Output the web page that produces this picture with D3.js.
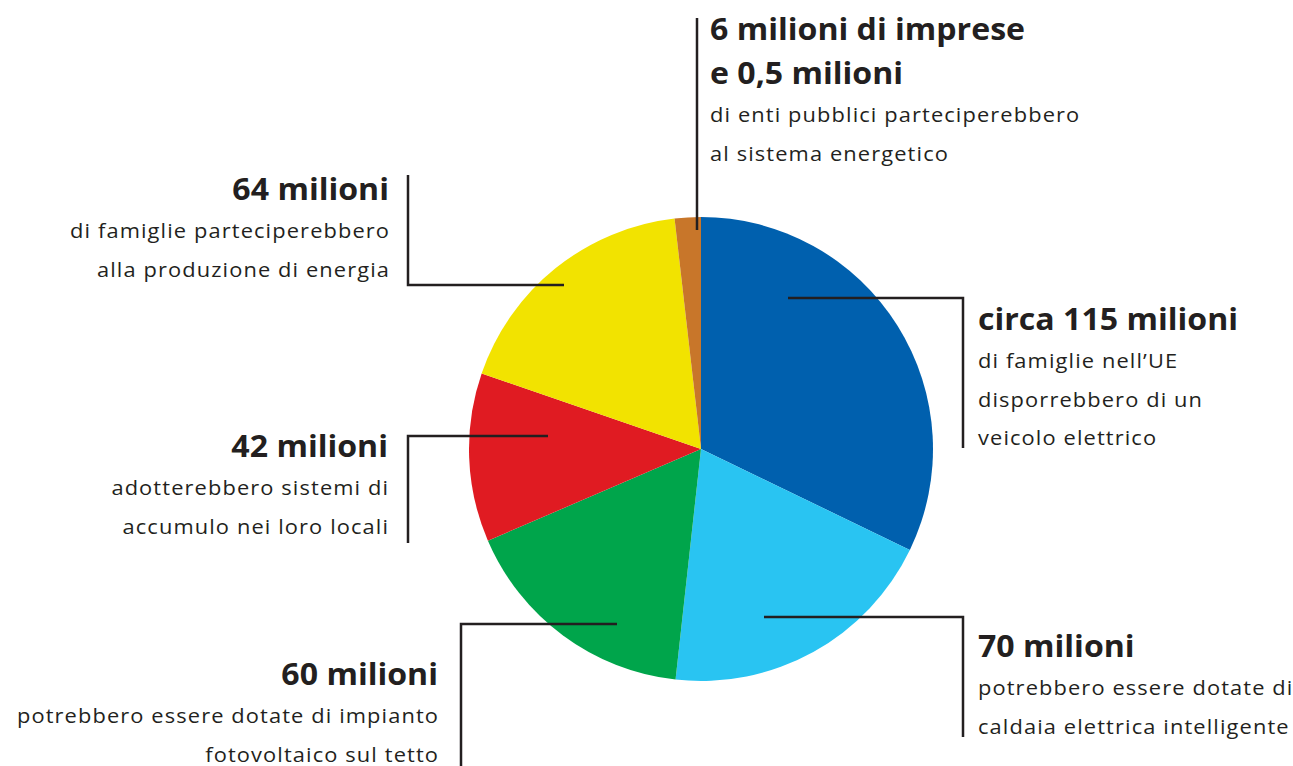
<!DOCTYPE html>
<html>
<head>
<meta charset="utf-8">
<script src="https://cdn.jsdelivr.net/npm/d3@7"></script>
<style>
  html, body { margin: 0; padding: 0; background: #fff; }
  svg { display: block; }
  .title { font-family: "Open Sans", Lato, sans-serif; font-weight: 700; fill: #231f20; }
  .body { font-family: "Open Sans", Lato, sans-serif; font-weight: 400; fill: #231f20; }
</style>
</head>
<body>
<svg id="chart" width="1293" height="766"></svg>
<script>
// Slices, clockwise from 12 o'clock (millions)
const categories = ["veicolo elettrico", "caldaia elettrica", "fotovoltaico", "accumulo", "produzione di energia", "imprese ed enti pubblici"];
const values = [115, 70, 60, 42, 64, 6.5];
const colors = ["#0060ae", "#29c4f2", "#00a54b", "#e01b22", "#f2e300", "#c8762a"];
const titles = [
  ["circa 115 milioni"],
  ["70 milioni"],
  ["60 milioni"],
  ["42 milioni"],
  ["64 milioni"],
  ["6 milioni di imprese", "e 0,5 milioni"]
];
const bodies = [
  ["di famiglie nell\u2019UE", "disporrebbero di un", "veicolo elettrico"],
  ["potrebbero essere dotate di", "caldaia elettrica intelligente"],
  ["potrebbero essere dotate di impianto", "fotovoltaico sul tetto"],
  ["adotterebbero sistemi di", "accumulo nei loro locali"],
  ["di famiglie parteciperebbero", "alla produzione di energia"],
  ["di enti pubblici parteciperebbero", "al sistema energetico"]
];

// Callout geometry: leader polyline and text block position
const layout = [
  { line: [[788, 298], [963, 298], [963, 448]], x: 978, y: 330, anchor: "start" },
  { line: [[764, 617], [963, 617], [963, 737]], x: 978, y: 657, anchor: "start" },
  { line: [[617, 624], [461, 624], [461, 770]], x: 438, y: 685, anchor: "end" },
  { line: [[548, 436], [408, 436], [408, 543]], x: 388, y: 457, anchor: "end" },
  { line: [[564, 285], [408, 285], [408, 175]], x: 389, y: 200, anchor: "end" },
  { line: [[697, 230], [697, 18]], x: 710, y: 40, anchor: "start" }
];

const svg = d3.select("#chart");
const cx = 701, cy = 449, radius = 232;

const pie = d3.pie().sort(null).value(d => d)(values);
const arc = d3.arc().innerRadius(0).outerRadius(radius);

svg.append("g")
  .attr("transform", `translate(${cx},${cy})`)
  .selectAll("path")
  .data(pie)
  .join("path")
  .attr("d", arc)
  .attr("fill", (d, i) => colors[i]);

const line = d3.line();
svg.append("g")
  .selectAll("path")
  .data(layout)
  .join("path")
  .attr("d", d => line(d.line))
  .attr("fill", "none")
  .attr("stroke", "#231f20")
  .attr("stroke-width", 2.5);

// Wide, rounded lettering: slightly stretched horizontally
const titleStyle = { size: 30, sx: 1.07, ls: 0 };
const bodyStyle = { size: 19.5, sx: 1.12, ls: 1 };
const titleStep = 44, bodyStep = 38.5, gap = 38;

function label(cls, st, x, y, anchor, str) {
  // letter-spacing trails the last glyph; compensate for right-aligned lines
  const dx = anchor === "end" ? st.ls * st.sx : 0;
  svg.append("g")
    .attr("transform", `translate(${x + dx},${y}) scale(${st.sx},1)`)
    .append("text")
    .attr("class", cls)
    .attr("text-anchor", anchor)
    .attr("font-size", st.size)
    .attr("letter-spacing", st.ls)
    .text(str);
}

layout.forEach((L, i) => {
  titles[i].forEach((t, k) => {
    label("title", titleStyle, L.x, L.y + k * titleStep, L.anchor, t);
  });
  const y0 = L.y + (titles[i].length - 1) * titleStep + gap;
  bodies[i].forEach((t, k) => {
    label("body", bodyStyle, L.x, y0 + k * bodyStep, L.anchor, t);
  });
});
</script>
</body>
</html>
